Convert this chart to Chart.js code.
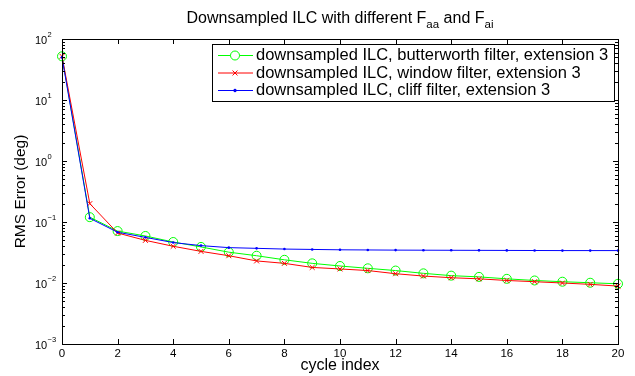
<!DOCTYPE html>
<html>
<head>
<meta charset="utf-8">
<script src="https://cdn.jsdelivr.net/npm/chart.js@4.4.1/dist/chart.umd.min.js"></script>
<style>
  html, body { margin: 0; padding: 0; background: #fff; }
  #wrap { width: 635px; height: 376px; }
</style>
</head>
<body>
<div id="wrap"><canvas id="ilcChart" width="635" height="376"></canvas></div>
<script>
// values
const cycles = [0, 1, 2, 3, 4, 5, 6, 7, 8, 9, 10, 11, 12, 13, 14, 15, 16, 17, 18, 19, 20];
const butterworth = [52, 0.12, 0.071, 0.059, 0.047, 0.039, 0.032, 0.028, 0.024, 0.021, 0.019,
                     0.0174, 0.016, 0.0144, 0.0132, 0.0126, 0.0117, 0.011, 0.0105, 0.0101, 0.0097];
const windowF = [52, 0.2, 0.066, 0.05, 0.04, 0.033, 0.028, 0.023, 0.021, 0.018, 0.017,
                 0.016, 0.0142, 0.013, 0.0122, 0.0117, 0.011, 0.0105, 0.01, 0.0095, 0.0089];
const cliff = [50, 0.115, 0.068, 0.056, 0.046, 0.041, 0.038, 0.037, 0.036, 0.0355, 0.035,
               0.0348, 0.0346, 0.0345, 0.0344, 0.0343, 0.0342, 0.0341, 0.034, 0.034, 0.034];
const xTicks = [0, 2, 4, 6, 8, 10, 12, 14, 16, 18, 20];
const yDecades = [-3, -2, -1, 0, 1, 2];
const seriesNames = [
    'downsampled ILC, butterworth filter, extension 3',
    'downsampled ILC, window filter, extension 3',
    'downsampled ILC, cliff filter, extension 3'
];

const FONT = "'Liberation Sans', Arial, Helvetica, sans-serif";
const toPoints = ys => cycles.map((c, i) => ({ x: c, y: ys[i] }));

// MATLAB-like axes box, inward ticks, labels, title and in-plot legend
const matlabAxes = {
    id: 'matlabAxes',
    afterDraw(chart) {
        const ctx = chart.ctx;
        const a = chart.chartArea;
        const xs = chart.scales.x, ys = chart.scales.y;
        ctx.save();
        ctx.strokeStyle = '#000';
        ctx.lineWidth = 1;
        ctx.strokeRect(Math.round(a.left) + 0.5, Math.round(a.top) + 0.5,
                       Math.round(a.right - a.left), Math.round(a.bottom - a.top));

        ctx.beginPath();
        xTicks.forEach(t => {
            const px = Math.round(xs.getPixelForValue(t)) + 0.5;
            ctx.moveTo(px, a.bottom); ctx.lineTo(px, a.bottom - 5);
            ctx.moveTo(px, a.top); ctx.lineTo(px, a.top + 5);
        });
        yDecades.forEach((d, i) => {
            const py = Math.round(ys.getPixelForValue(Math.pow(10, d))) + 0.5;
            ctx.moveTo(a.left, py); ctx.lineTo(a.left + 5, py);
            ctx.moveTo(a.right, py); ctx.lineTo(a.right - 5, py);
            if (i < yDecades.length - 1) {
                for (let m = 2; m <= 9; m++) {
                    const pm = Math.round(ys.getPixelForValue(m * Math.pow(10, d))) + 0.5;
                    ctx.moveTo(a.left, pm); ctx.lineTo(a.left + 3, pm);
                    ctx.moveTo(a.right, pm); ctx.lineTo(a.right - 3, pm);
                }
            }
        });
        ctx.stroke();

        // tick labels
        ctx.fillStyle = '#000';
        ctx.font = '11.5px ' + FONT;
        ctx.textAlign = 'center';
        ctx.textBaseline = 'middle';
        xTicks.forEach(t => ctx.fillText(String(t), xs.getPixelForValue(t), a.bottom + 10));

        yDecades.forEach(d => {
            const py = ys.getPixelForValue(Math.pow(10, d));
            ctx.font = '11px ' + FONT;
            ctx.textAlign = 'left';
            ctx.fillText('10', 35, py + 2);
            ctx.font = '7.5px ' + FONT;
            ctx.fillText(d < 0 ? '\u2212' + Math.abs(d) : String(d), 47.5, py - 4);
        });

        // axis labels
        ctx.font = '16px ' + FONT;
        ctx.textAlign = 'center';
        ctx.fillText('cycle index', (a.left + a.right) / 2, 366);
        ctx.font = '15.5px ' + FONT;
        ctx.save();
        ctx.translate(21, (a.top + a.bottom) / 2);
        ctx.rotate(-Math.PI / 2);
        ctx.fillText('RMS Error (deg)', 0, 0);
        ctx.restore();

        // title with subscripts
        const parts = [['Downsampled ILC with different F', 0], ['aa', 1], [' and F', 0], ['ai', 1]];
        const wOf = p => { ctx.font = (p[1] ? '11.5px ' : '16px ') + FONT; return ctx.measureText(p[0]).width; };
        const total = parts.reduce((s, p) => s + wOf(p), 0);
        let tx = (a.left + a.right) / 2 - total / 2;
        ctx.textAlign = 'left';
        parts.forEach(p => {
            const w = wOf(p);
            ctx.fillText(p[0], tx, p[1] ? 25 : 19);
            tx += w;
        });

        // legend box
        const lx = 212, ly = 44, lw = 402, lh = 57;
        ctx.fillStyle = '#fff';
        ctx.fillRect(lx, ly, lw, lh);
        ctx.strokeRect(lx + 0.5, ly + 0.5, lw, lh);
        const rows = [55.5, 73, 90.5];
        [0, 1, 2].forEach((di, r) => {
            const ds = chart.data.datasets[di];
            const y = rows[r];
            ctx.strokeStyle = ds.borderColor;
            ctx.lineWidth = 1;
            ctx.beginPath();
            ctx.moveTo(218, y); ctx.lineTo(253, y);
            ctx.stroke();
            Chart.helpers.drawPoint(ctx, {
                pointStyle: ds.pointStyle, radius: ds.pointRadius, borderWidth: 1, rotation: 0
            }, 235, y);
            if (ds.pointBackgroundColor !== 'transparent' && ds.pointStyle === 'circle') {
                ctx.fillStyle = ds.borderColor; ctx.fill();
            }
            ctx.fillStyle = '#000';
            ctx.font = '16.5px ' + FONT;
            ctx.textAlign = 'left';
            ctx.fillText(seriesNames[di], 256, y);
        });
        ctx.restore();
    }
};

new Chart(document.getElementById('ilcChart'), {
    type: 'line',
    data: {
        datasets: [
            {
                label: seriesNames[0], data: toPoints(butterworth), order: 3,
                borderColor: '#00ff00', borderWidth: 1, pointStyle: 'circle', pointRadius: 4.5,
                pointBorderColor: '#00ff00', pointBackgroundColor: 'transparent', pointBorderWidth: 1,
                clip: false, tension: 0
            },
            {
                label: seriesNames[1], data: toPoints(windowF), order: 2,
                borderColor: '#ff0000', borderWidth: 1, pointStyle: 'crossRot', pointRadius: 3.5,
                pointBorderColor: '#ff0000', pointBorderWidth: 1, clip: false, tension: 0
            },
            {
                label: seriesNames[2], data: toPoints(cliff), order: 1,
                borderColor: '#0000ff', borderWidth: 1, pointStyle: 'circle', pointRadius: 1.3,
                pointBorderColor: '#0000ff', pointBackgroundColor: '#0000ff', pointBorderWidth: 0,
                clip: false, tension: 0
            }
        ]
    },
    options: {
        responsive: false,
        animation: false,
        devicePixelRatio: 1,
        layout: { padding: { left: 0, top: 39, right: 17, bottom: 0 } },
        plugins: { legend: { display: false }, title: { display: false }, tooltip: { enabled: false } },
        scales: {
            x: {
                type: 'linear', min: 0, max: 20,
                grid: { display: false }, border: { display: false }, ticks: { display: false },
                afterFit: s => { s.height = 32; }
            },
            y: {
                type: 'logarithmic', min: 0.001, max: 100,
                grid: { display: false }, border: { display: false }, ticks: { display: false },
                afterFit: s => { s.width = 62; }
            }
        }
    },
    plugins: [matlabAxes]
});
</script>
</body>
</html>
